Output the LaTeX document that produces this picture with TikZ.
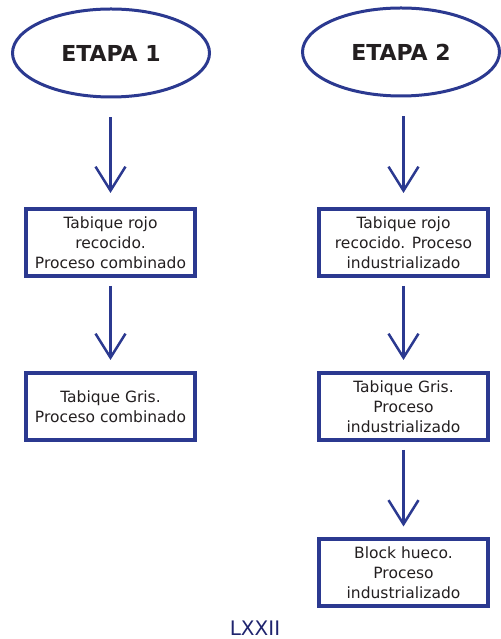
\documentclass[tikz,border=0pt]{standalone}
\usepackage{fontspec}
\setmainfont{DejaVu Sans}
\usetikzlibrary{shapes.geometric,arrows.meta}
\definecolor{azul}{RGB}{43,57,144}
\definecolor{texto}{RGB}{35,31,32}
\definecolor{pie}{RGB}{31,36,110}

\begin{document}
\begin{tikzpicture}[x=1pt,y=1pt,
  etapa/.style={ellipse, draw=azul, line width=3pt, minimum width=197pt,
    minimum height=88pt, inner sep=0pt, text=texto,
    font=\bfseries\fontsize{22}{26}\selectfont},
  caja/.style={rectangle, draw=azul, line width=4pt, minimum width=169pt,
    minimum height=67pt, inner sep=0pt, align=center, text=texto,
    font=\fontsize{15.5}{20}\selectfont},
  flecha/.style={draw=azul, line width=2.5pt,
    -{Bar[width=0pt, sep=20pt] Straight Barb[length=24pt, width=30pt]},
    shorten <=8pt, shorten >=11pt}]

  \useasboundingbox (0,0) rectangle (500,639);

  % las dos etapas
  \node[etapa] (e1) at (111,586) {ETAPA 1};
  \node[etapa] (e2) at (401,587) {ETAPA 2};

  % etapa 1
  \node[caja] (a1) at (110.5,396.5) {Tabique rojo\\recocido.\\Proceso combinado};
  \node[caja] (a2) at (110.5,232.5) {Tabique Gris.\\Proceso combinado};

  % etapa 2
  \node[caja] (b1) at (403.5,396.5) {Tabique rojo\\recocido. Proceso\\industrializado};
  \node[caja] (b2) at (403.5,232.5) {Tabique Gris.\\Proceso\\industrializado};
  \node[caja] (b3) at (403.5,66) {Block hueco.\\Proceso\\industrializado};

  \draw[flecha, shorten <=19pt, shorten >=14pt] (e1.south -| a1) -- (a1.north);
  \draw[flecha] (a1) -- (a2);
  \draw[flecha, shorten <=19pt, shorten >=14pt] (e2.south -| b1) -- (b1.north);
  \draw[flecha] (b1) -- (b2);
  \draw[flecha] (b2) -- (b3);

  \node[text=pie, font=\fontsize{20}{24}\selectfont] (pag) at (255,11) {LXXII};

\end{tikzpicture}
\end{document}
